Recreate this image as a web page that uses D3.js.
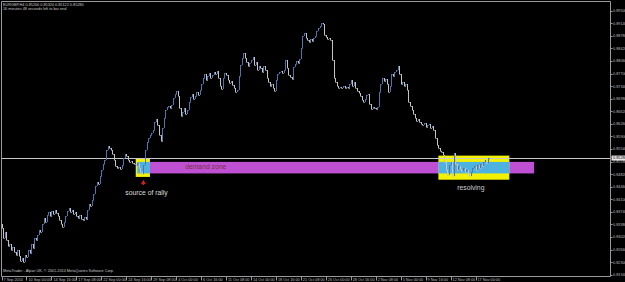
<!DOCTYPE html>
<html><head><meta charset="utf-8">
<script src="https://cdn.jsdelivr.net/npm/d3@7"></script>
<style>html,body{margin:0;padding:0;background:#000;overflow:hidden}svg{display:block}</style>
</head><body>
<script>
// ---------- DATA ----------
const symbolTitle = "EURGBP,H4  0.85200 0.85320 0.85122 0.85280";
const timerText = "16 minutes 48 seconds left to bar end";
const footerText = "MetaTrader - Alpari UK, \u00a9 2001-2010 MetaQuotes Software Corp.";
// H4 closes, bar 0 = 7 Sep 2010 20:00
const closes = [
0.8328,0.8299,0.8316,0.8293,0.8276,0.8282,0.8265,0.8273,0.8259,0.8250,
0.8265,0.8248,0.8233,0.8242,0.8230,0.8250,0.8245,0.8265,0.8256,0.8282,
0.8270,0.8299,0.8293,0.8308,0.8322,0.8316,0.8339,0.8356,0.8345,0.8365,
0.8373,0.8362,0.8376,0.8368,0.8379,0.8370,0.8362,0.8351,0.8339,0.8331,
0.8345,0.8362,0.8376,0.8385,0.8373,0.8379,0.8368,0.8373,0.8362,0.8356,
0.8365,0.8353,0.8351,0.8359,0.8353,0.8379,0.8396,0.8390,0.8408,0.8425,
0.8448,0.8459,0.8453,0.8476,0.8494,0.8511,0.8523,0.8551,0.8563,0.8557,
0.8551,0.8540,0.8523,0.8505,0.8499,0.8502,0.8497,0.8508,0.8528,0.8540,
0.8534,0.8523,0.8517,0.8520,0.8514,0.8511,0.8505,0.8514,0.8499,0.8488,
0.8482,0.8508,0.8551,0.8574,0.8586,0.8594,0.8600,0.8609,0.8631,0.8640,
0.8623,0.8594,0.8577,0.8614,0.8643,0.8666,0.8674,0.8677,0.8671,0.8680,
0.8700,0.8711,0.8720,0.8706,0.8671,0.8648,0.8660,0.8671,0.8654,0.8666,
0.8689,0.8703,0.8711,0.8697,0.8706,0.8717,0.8709,0.8723,0.8740,0.8757,
0.8769,0.8752,0.8763,0.8772,0.8757,0.8766,0.8775,0.8769,0.8778,0.8757,
0.8734,0.8726,0.8757,0.8772,0.8766,0.8752,0.8743,0.8749,0.8737,0.8729,
0.8717,0.8723,0.8763,0.8795,0.8815,0.8829,0.8815,0.8803,0.8792,0.8800,
0.8809,0.8818,0.8795,0.8803,0.8780,0.8792,0.8786,0.8775,0.8792,0.8780,
0.8757,0.8746,0.8734,0.8740,0.8729,0.8720,0.8752,0.8769,0.8775,0.8778,
0.8772,0.8780,0.8809,0.8786,0.8766,0.8760,0.8755,0.8789,0.8797,0.8806,
0.8800,0.8812,0.8843,0.8878,0.8886,0.8872,0.8866,0.8861,0.8869,0.8863,
0.8872,0.8878,0.8892,0.8901,0.8906,0.8915,0.8912,0.8881,0.8875,0.8869,
0.8872,0.8866,0.8809,0.8757,0.8746,0.8734,0.8729,0.8732,0.8729,0.8734,
0.8729,0.8732,0.8729,0.8740,0.8752,0.8734,0.8746,0.8729,0.8720,0.8714,
0.8706,0.8694,0.8689,0.8697,0.8709,0.8711,0.8683,0.8669,0.8674,0.8671,
0.8669,0.8674,0.8717,0.8740,0.8757,0.8749,0.8755,0.8740,0.8717,0.8734,
0.8769,0.8763,0.8775,0.8780,0.8792,0.8769,0.8740,0.8746,0.8734,0.8740,
0.8723,0.8689,0.8677,0.8666,0.8654,0.8643,0.8634,0.8640,0.8631,0.8626,
0.8623,0.8629,0.8617,0.8623,0.8626,0.8614,0.8620,0.8609,0.8586,0.8566,
0.8557,0.8548,0.8545,0.8537,0.8517,0.8494,0.8480,0.8508,0.8517,0.8477,
0.8543,0.8511,0.8494,0.8505,0.8497,0.8491,0.8499,0.8488,0.8494,0.8482,
0.8477,0.8488,0.8499,0.8505,0.8494,0.8508,0.8499,0.8511,0.8505,0.8517,
0.8523,0.8514,0.8528
];
const bid = 0.8528;
const priceTicks = [0.8194,0.8230,0.8266,0.8302,0.8338,0.8374,0.8410,0.8446,0.8482,0.8518,0.8554,
  0.8590,0.8626,0.8662,0.8698,0.8734,0.8770,0.8806,0.8842,0.8878,0.8914,0.8950];
const timeLabels = ["7 Sep 2010","10 Sep 00:00","14 Sep 16:00","17 Sep 08:00","22 Sep 00:00",
  "24 Sep 16:00","29 Sep 08:00","4 Oct 00:00","6 Oct 16:00","11 Oct 08:00","14 Oct 00:00",
  "18 Oct 16:00","21 Oct 08:00","26 Oct 00:00","28 Oct 16:00","2 Nov 08:00","5 Nov 00:00",
  "9 Nov 16:00","12 Nov 08:00","17 Nov 00:00"];
const timeLabelBars = [0,16,32,48,64,80,96,112,128,144,160,176,192,208,224,240,256,272,288,304];
// zones in bar index / price
const zoneNames  = ["demand", "source", "sourceCore", "resolving", "resolvingCore"];
const zoneStart  = [95.2, 86.1, 87.1, 280.2, 280.2];
const zoneEnd    = [341.6, 95.2, 95.2, 325.7, 325.7];
const zoneTop    = [0.8517, 0.8527, 0.8517, 0.8535, 0.8517];
const zoneBottom = [0.8484, 0.8474, 0.8484, 0.8466, 0.8484];
const zoneColor  = ["#bf50d4", "#f2f200", "#4db2e0", "#f2f200", "#4db2e0"];
// annotations
const noteTexts = ["demand zone", "source of rally", "resolving"];
const noteBar   = [131, 93, 301];
const notePrice = [0.8496, 0.8422, 0.8436];
const arrowBar = 91, arrowPrice = 0.8458;

// ---------- DRAW ----------
const W = 625, H = 282;
const svg = d3.select("body").append("svg").attr("width", W).attr("height", H)
  .style("background", "#000");
const x = d3.scaleLinear().domain([0, 304]).range([1.5, 475.5]);
const y = d3.scaleLinear().domain([0.8194, 0.8950]).range([274.7, 10.7]);
const axisX = 610.5, axisY = 276.5;
const font = "'Liberation Sans', Arial, sans-serif";
const small = 3.8;

const plot = svg.append("g");
const zOrder = [0, 1, 3, 2, 4];
plot.selectAll("rect.zone").data(zOrder).join("rect").attr("class","zone")
  .attr("x", d => x(zoneStart[d]))
  .attr("width", d => x(zoneEnd[d]) - x(zoneStart[d]))
  .attr("y", d => y(zoneTop[d]))
  .attr("height", d => y(zoneBottom[d]) - y(zoneTop[d]))
  .attr("fill", d => zoneColor[d]);

// bid line
plot.append("line").attr("x1", 1).attr("x2", axisX).attr("y1", Math.round(y(bid)) + 0.5)
  .attr("y2", Math.round(y(bid)) + 0.5).attr("stroke", "#c8c8c8").attr("stroke-width", 1);

// bars
const bars = closes.map((c, i) => {
  const o = i === 0 ? c + 0.0010 : closes[i - 1];
  return {i, o, c};
});
const bx = d => Math.round(x(d.i)) + 0.5;
plot.append("g").selectAll("path").data(bars).join("path")
  .attr("d", d => {
    const X = bx(d);
    let y1 = Math.round(y(d.o)), y2 = Math.round(y(d.c));
    if (y1 === y2) y2 = y1 + 1;
    return `M${X},${Math.min(y1,y2)}V${Math.max(y1,y2)}M${X},${Math.round(y(d.c))+0.5}H${X+1.2}`;
  })
  .attr("stroke", d => d.c >= d.o ? "#4f74ad" : "#c4c4c4")
  .attr("stroke-width", 1).attr("fill", "none");

// arrow marker
svg.append("path")
  .attr("d", d3.symbol().type(d3.symbolTriangle).size(10)())
  .attr("transform", `translate(${x(arrowBar)},${y(arrowPrice)})`)
  .attr("fill", "#d02020");
svg.append("rect").attr("x", x(arrowBar) - 0.8).attr("y", y(arrowPrice)).attr("width", 1.6).attr("height", 2.5)
  .attr("fill", "#d02020");

// notes
const noteColor = ["#7a3040", "#dcdcdc", "#cfcfcf"];
svg.selectAll("text.note").data(noteTexts).join("text").attr("class","note")
  .attr("x", (d, k) => x(noteBar[k])).attr("y", (d, k) => y(notePrice[k]))
  .attr("text-anchor", "middle").attr("font-family", font).attr("font-size", 6.8)
  .attr("fill", (d, k) => noteColor[k]).text(d => d);

// frame
svg.append("path").attr("d", `M1.5,${axisY}V1.5H${axisX}V${axisY}H1.5`)
  .attr("fill", "none").attr("stroke", "#9a9a9a").attr("stroke-width", 1);

// price axis
const pa = svg.append("g");
pa.selectAll("line").data(priceTicks).join("line")
  .attr("x1", axisX).attr("x2", axisX + 2)
  .attr("y1", d => Math.round(y(d)) + 0.5).attr("y2", d => Math.round(y(d)) + 0.5)
  .attr("stroke", "#9a9a9a");
pa.selectAll("text").data(priceTicks).join("text")
  .attr("x", axisX + 2.5).attr("y", d => y(d) + 1.4)
  .attr("font-family", font).attr("font-size", small).attr("fill", "#bdbdbd")
  .text(d => d3.format(".5f")(d));
// bid box
const by = y(bid);
svg.append("rect").attr("x", axisX + 1).attr("y", by - 2.5).attr("width", 14).attr("height", 5).attr("fill", "#e8e8e8");
svg.append("text").attr("x", axisX + 2.5).attr("y", by + 1.4).attr("font-family", font).attr("font-size", small)
  .attr("fill", "#000").text(d3.format(".5f")(bid));

// time axis
const ta = svg.append("g");
ta.selectAll("line").data(timeLabelBars).join("line")
  .attr("x1", d => Math.round(x(d)) + 0.5).attr("x2", d => Math.round(x(d)) + 0.5)
  .attr("y1", axisY).attr("y2", axisY + 4).attr("stroke", "#9a9a9a");
ta.selectAll("text").data(timeLabels).join("text")
  .attr("x", (d, k) => x(timeLabelBars[k]) + 2).attr("y", 280.5)
  .attr("font-family", font).attr("font-size", small).attr("fill", "#bdbdbd").text(d => d);

// header & footer
svg.append("text").attr("x", 3).attr("y", 5.5).attr("font-family", font).attr("font-size", small)
  .attr("fill", "#c8c8c8").text(symbolTitle);
svg.append("text").attr("x", 3).attr("y", 9.5).attr("font-family", font).attr("font-size", small)
  .attr("fill", "#c8c8c8").text(timerText);
svg.append("text").attr("x", 3).attr("y", 271.5).attr("font-family", font).attr("font-size", small)
  .attr("fill", "#c8c8c8").text(footerText);
</script>
</body></html>
